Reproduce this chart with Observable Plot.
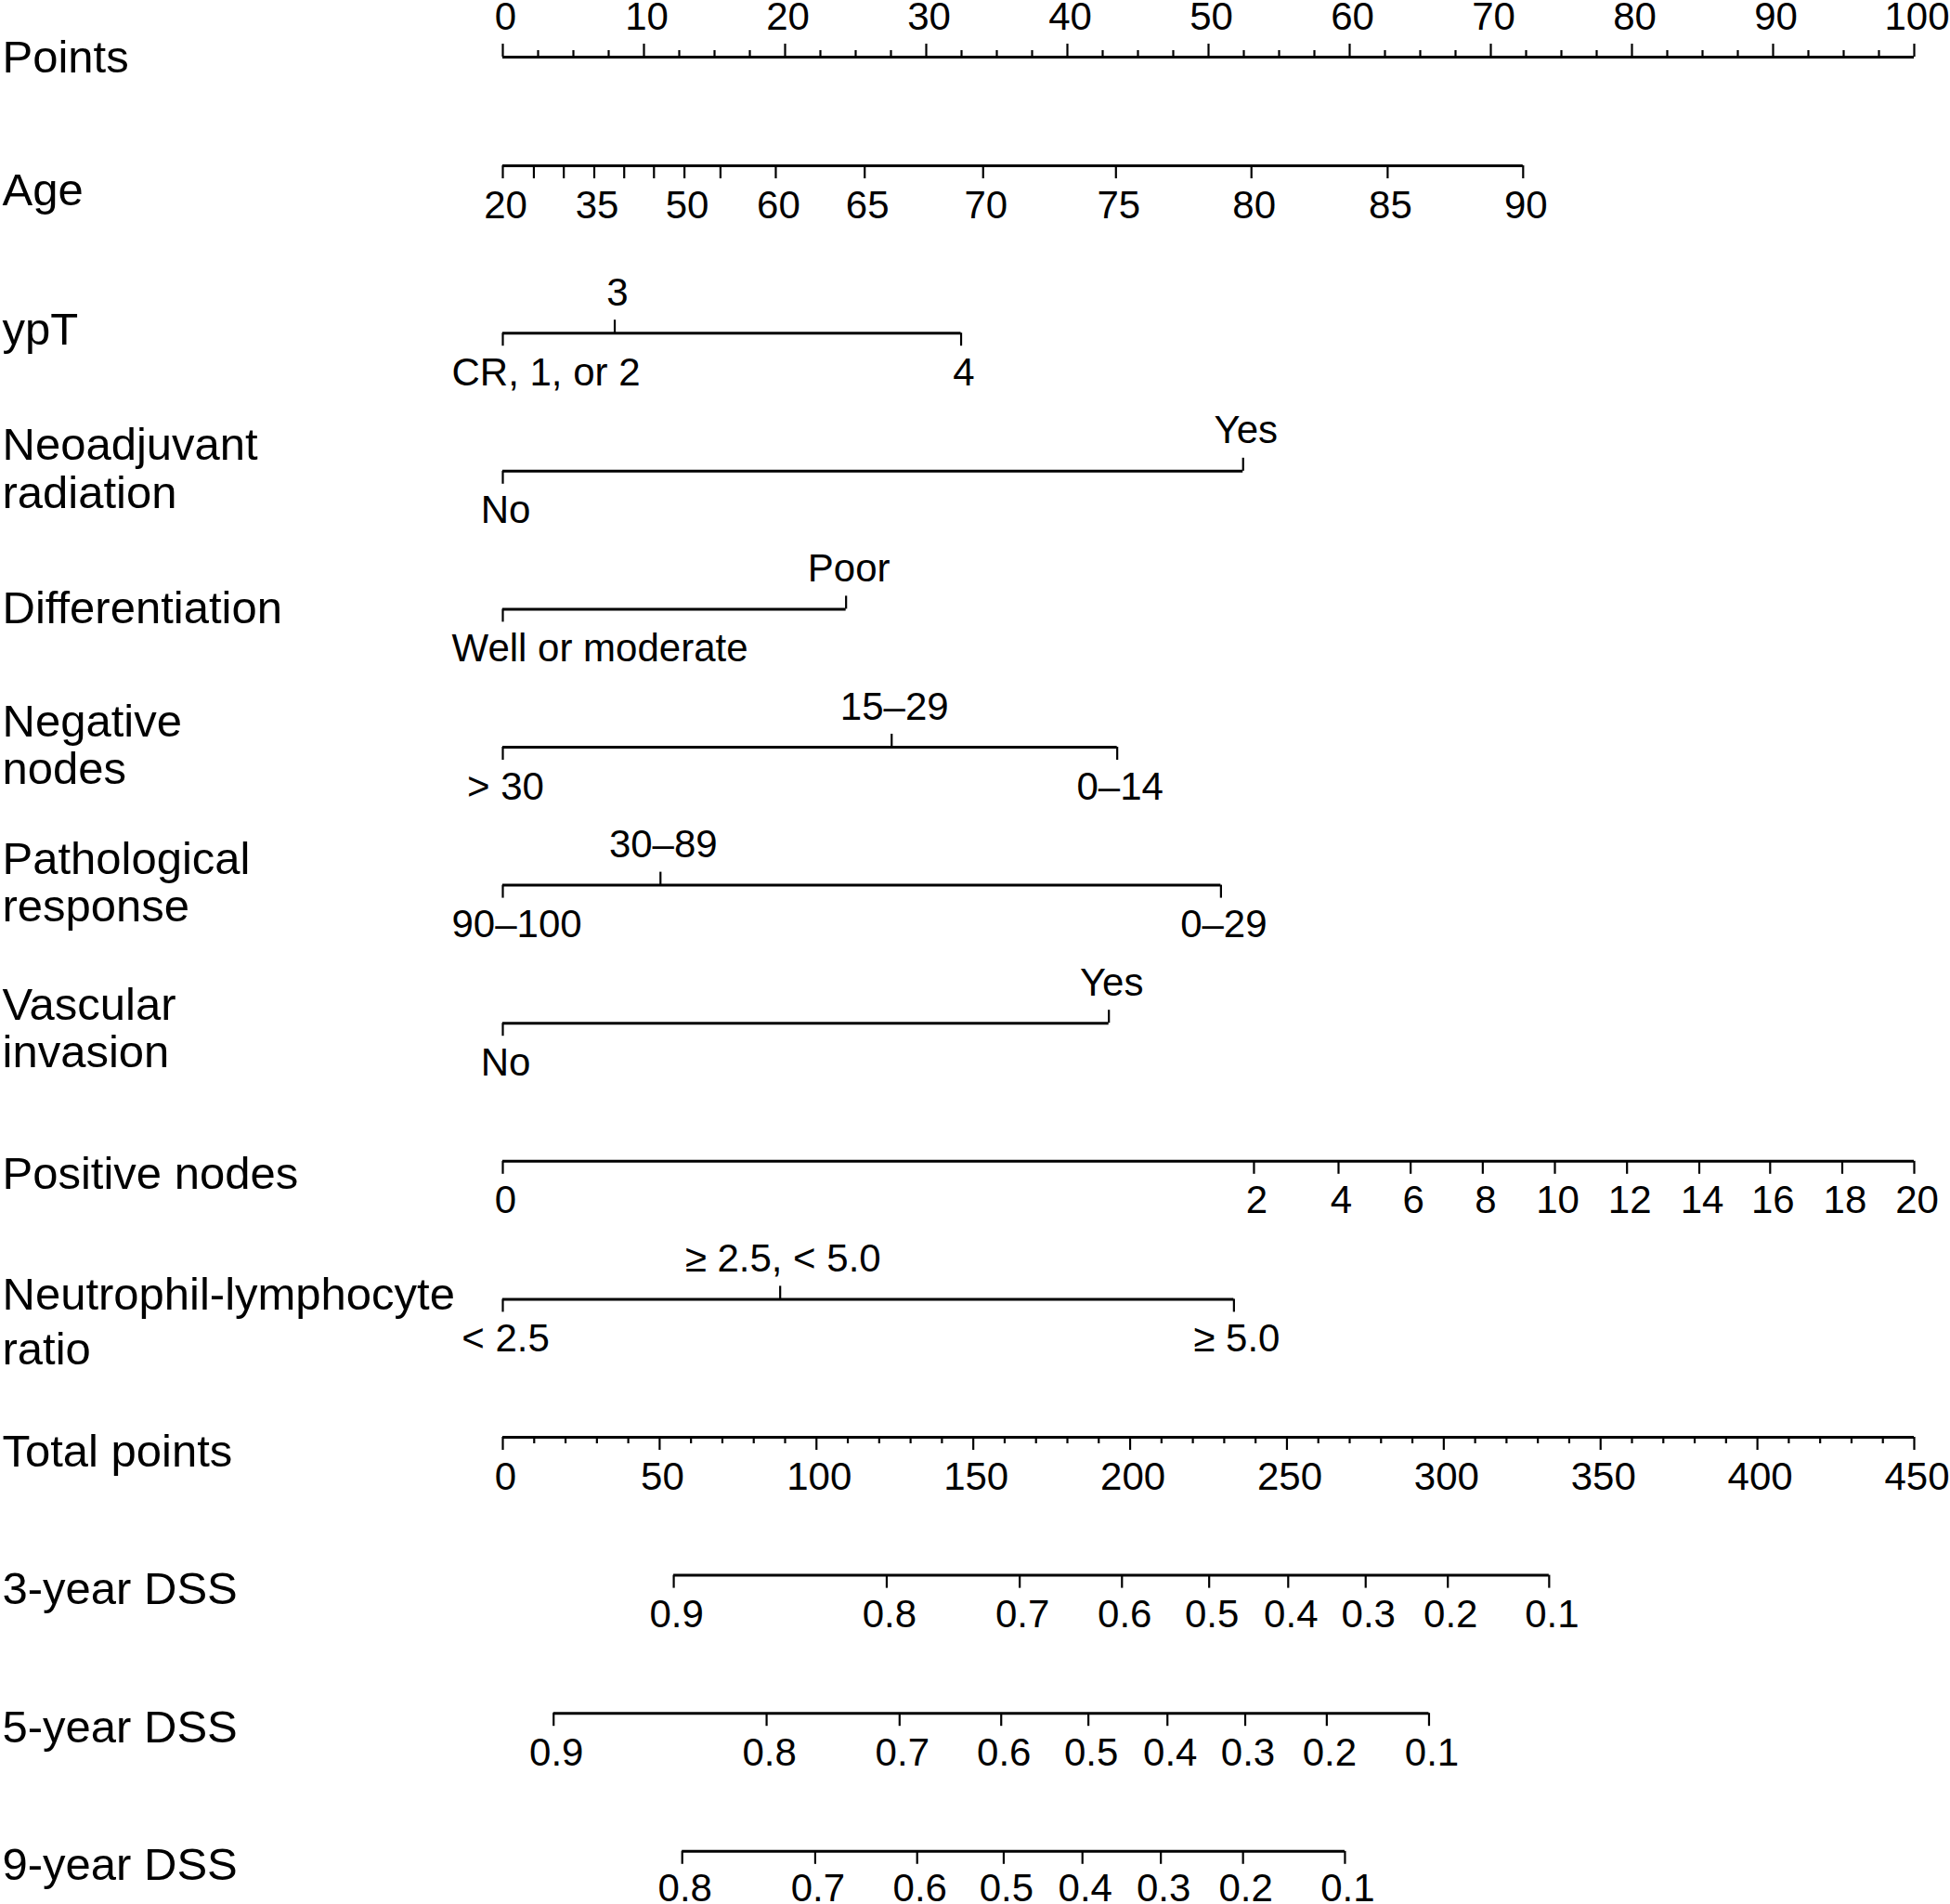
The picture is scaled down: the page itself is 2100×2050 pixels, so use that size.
<!DOCTYPE html>
<html>
<head>
<meta charset="utf-8">
<script src="https://cdn.jsdelivr.net/npm/d3@7"></script>
<script src="https://cdn.jsdelivr.net/npm/@observablehq/plot@0.6"></script>
<style>
  html, body { margin: 0; padding: 0; background: #fff; }
  #chart svg { display: block; }
</style>
</head>
<body>
<div id="chart"></div>
<script>
// ---------------- DATA ----------------
const rowKeys = ["points", "age", "ypt", "radiation", "diff", "negnodes", "path", "vasc", "posnodes", "nlr", "total", "dss3", "dss5", "dss9"];
const rowLabels = ["Points", "Age", "ypT", "Neoadjuvant\nradiation", "Differentiation", "Negative\nnodes", "Pathological\nresponse", "Vascular\ninvasion", "Positive nodes", "Neutrophil-lymphocyte\nratio", "Total points", "3-year DSS", "5-year DSS", "9-year DSS"];

const pointsMax = 100;
const pointsTicks = [0, 10, 20, 30, 40, 50, 60, 70, 80, 90, 100];
const pointsMinorStep = 2.5;

const ageValues = [20, 25, 30, 35, 40, 45, 50, 55, 60, 65, 70, 75, 80, 85, 90];
const agePoints = [0, 2.20, 4.32, 6.48, 8.60, 10.71, 12.87, 15.42, 19.34, 25.64, 34.03, 43.44, 53.04, 62.69, 72.29];
const ageLabelled = [20, 35, 50, 60, 65, 70, 75, 80, 85, 90];

const yptLevels = ["CR, 1, or 2", "3", "4"];
const yptPoints = [0, 7.93, 32.47];

const radiationLevels = ["No", "Yes"];
const radiationPoints = [0, 52.45];

const diffLevels = ["Well or moderate", "Poor"];
const diffPoints = [0, 24.32];

const negNodeLevels = ["> 30", "15\u201329", "0\u201314"];
const negNodePoints = [0, 27.55, 43.53];

const pathLevels = ["90\u2013100", "30\u201389", "0\u201329"];
const pathPoints = [0, 11.17, 50.88];

const vascLevels = ["No", "Yes"];
const vascPoints = [0, 42.94];

const posNodeValues = [0, 2, 4, 6, 8, 10, 12, 14, 16, 18, 20];
const posNodePoints = [0, 53.22, 59.21, 64.32, 69.43, 74.54, 79.65, 84.77, 89.79, 94.90, 100];

const nlrLevels = ["< 2.5", "\u2265 2.5, < 5.0", "\u2265 5.0"];
const nlrPoints = [0, 19.65, 51.8];

const totalMax = 450;
const totalTicks = [0, 50, 100, 150, 200, 250, 300, 350, 400, 450];
const totalMinorStep = 10;

const dss3Probs = [0.9, 0.8, 0.7, 0.6, 0.5, 0.4, 0.3, 0.2, 0.1];
const dss3Total = [54.5, 122.4, 164.8, 197.4, 225.2, 250.4, 275.1, 301.3, 333.6];
const dss5Probs = [0.9, 0.8, 0.7, 0.6, 0.5, 0.4, 0.3, 0.2, 0.1];
const dss5Total = [16.2, 84.1, 126.5, 158.9, 186.7, 211.9, 236.7, 262.7, 295.3];
const dss9Probs = [0.8, 0.7, 0.6, 0.5, 0.4, 0.3, 0.2, 0.1];
const dss9Total = [57.2, 99.6, 132.1, 159.7, 184.8, 209.8, 236.0, 268.5];

// ---------------- LAYOUT / STYLE ----------------
const W = 2100, H = 2050;
const marginLeft = 541, marginRight = 39;
const font = "'Liberation Sans', Arial, Helvetica, sans-serif";
const tickFont = 42, rowFont = 49;
const bandHalf = 14, minorLen = 7;
const aboveDy = -30, belowDy = 56, labelDx = 3;
const leftLabelLimit = 55;   // px a label may extend left of the axis start
const rowShift = {age: -31.6};
const belowDyOverride = {dss9: 54};
const rowLabelLayout = {
  points: [16, 1], age: [11, 1], ypt: [12, 1], radiation: [40, 1.06], diff: [15, 1],
  negnodes: [39, 1.04], path: [39, 1.04], vasc: [47, 1.04], posnodes: [30, 1],
  nlr: [70, 1.2], total: [31, 1], dss3: [31, 1], dss5: [31, 1], dss9: [31, 1]
};

// ---------------- BUILD TABLES ----------------
const fromTotal = (t) => t * pointsMax / totalMax;
const ticks = [];   // {row, x, dir, minor}
const labels = [];  // {row, x, text, above}

pointsTicks.forEach(v => { ticks.push({row: "points", x: v, dir: "up", minor: false}); labels.push({row: "points", x: v, text: String(v), above: true}); });
d3.range(0, pointsMax + 1e-9, pointsMinorStep).filter(v => !pointsTicks.includes(v)).forEach(v => ticks.push({row: "points", x: v, dir: "up", minor: true}));

ageValues.forEach((a, i) => {
  ticks.push({row: "age", x: agePoints[i], dir: "down", minor: false});
  if (ageLabelled.includes(a)) labels.push({row: "age", x: agePoints[i], text: String(a), above: false});
});

function categorical(row, levels, pts) {
  levels.forEach((lv, i) => {
    const up = i % 2 === 1;
    ticks.push({row, x: pts[i], dir: up ? "up" : "down", minor: false});
    labels.push({row, x: pts[i], text: lv, above: up});
  });
}
categorical("ypt", yptLevels, yptPoints);
categorical("radiation", radiationLevels, radiationPoints);
categorical("diff", diffLevels, diffPoints);
categorical("negnodes", negNodeLevels, negNodePoints);
categorical("path", pathLevels, pathPoints);
categorical("vasc", vascLevels, vascPoints);
categorical("nlr", nlrLevels, nlrPoints);

posNodeValues.forEach((v, i) => { ticks.push({row: "posnodes", x: posNodePoints[i], dir: "down", minor: false}); labels.push({row: "posnodes", x: posNodePoints[i], text: String(v), above: false}); });

totalTicks.forEach(v => { ticks.push({row: "total", x: fromTotal(v), dir: "down", minor: false}); labels.push({row: "total", x: fromTotal(v), text: String(v), above: false}); });
d3.range(0, totalMax + 1e-9, totalMinorStep).filter(v => !totalTicks.includes(v)).forEach(v => ticks.push({row: "total", x: fromTotal(v), dir: "down", minor: true}));

function dss(row, probs, tot) {
  probs.forEach((p, i) => { ticks.push({row, x: fromTotal(tot[i]), dir: "down", minor: false}); labels.push({row, x: fromTotal(tot[i]), text: String(p), above: false}); });
}
dss("dss3", dss3Probs, dss3Total);
dss("dss5", dss5Probs, dss5Total);
dss("dss9", dss9Probs, dss9Total);

// base line extents from ticks
const lines = rowKeys.map(r => {
  const xs = ticks.filter(t => t.row === r).map(t => t.x);
  return {row: r, x1: d3.min(xs), x2: d3.max(xs)};
});

// measure labels for left clamping
const ctx = document.createElement("canvas").getContext("2d");
ctx.font = `${tickFont}px 'Liberation Sans'`;
labels.forEach(l => {
  const w = ctx.measureText(l.text).width;
  l.clamp = (l.x === 0 && w / 2 > leftLabelLimit);
});

// ---------------- MARKS ----------------
const marks = [];
rowKeys.forEach((r, idx) => {
  const dy = rowShift[r] || 0;
  marks.push(Plot.ruleY(lines.filter(d => d.row === r), {y: "row", x1: "x1", x2: "x2", stroke: "black", strokeWidth: 3, dy}));
  const rt = ticks.filter(t => t.row === r);
  const combos = [
    {dir: "down", minor: false, insetTop: bandHalf, insetBottom: 0},
    {dir: "up", minor: false, insetTop: 0, insetBottom: bandHalf},
    {dir: "down", minor: true, insetTop: bandHalf, insetBottom: bandHalf - minorLen},
    {dir: "up", minor: true, insetTop: bandHalf - minorLen, insetBottom: bandHalf}
  ];
  combos.forEach(c => {
    const d = rt.filter(t => t.dir === c.dir && t.minor === c.minor);
    if (d.length) marks.push(Plot.tickX(d, {x: "x", y: "row", stroke: "black", strokeWidth: 2.2, insetTop: c.insetTop, insetBottom: c.insetBottom, dy}));
  });
  const rl = labels.filter(l => l.row === r);
  [true, false].forEach(above => {
    const off = above ? aboveDy : (belowDyOverride[r] ?? belowDy);
    const base = {x: "x", y: "row", text: "text", fontSize: tickFont, lineAnchor: "bottom", dy: dy + off};
    const centered = rl.filter(l => l.above === above && !l.clamp);
    const clamped = rl.filter(l => l.above === above && l.clamp);
    if (centered.length) marks.push(Plot.text(centered, {...base, textAnchor: "middle", dx: labelDx}));
    if (clamped.length) marks.push(Plot.text(clamped, {...base, textAnchor: "start", dx: -leftLabelLimit}));
  });
  const [ldy, lh] = rowLabelLayout[r];
  marks.push(Plot.text([{row: r, text: rowLabels[idx]}], {
    y: "row", text: "text", frameAnchor: "left", textAnchor: "start", dx: -(marginLeft - 2),
    fontSize: rowFont, lineAnchor: "bottom", lineHeight: lh, dy: ldy
  }));
});

// band scale: bandwidth = 2*bandHalf, centers 148.6 px apart starting at y=61
const step = 148.6;
const paddingInner = 1 - (2 * bandHalf) / step;
const marginTop = 10;
const paddingOuter = (61 - bandHalf - marginTop) / step;
const spanPx = step * (rowKeys.length - paddingInner + 2 * paddingOuter);
const marginBottom = H - marginTop - spanPx;

const chart = Plot.plot({
  width: W, height: H,
  marginLeft, marginRight, marginTop, marginBottom,
  x: {domain: [0, pointsMax], axis: null},
  y: {type: "band", domain: rowKeys, paddingInner, paddingOuter, round: false, axis: null},
  style: {fontFamily: font, background: "white", color: "black", overflow: "visible"},
  marks
});
document.getElementById("chart").appendChild(chart);
</script>
</body>
</html>
